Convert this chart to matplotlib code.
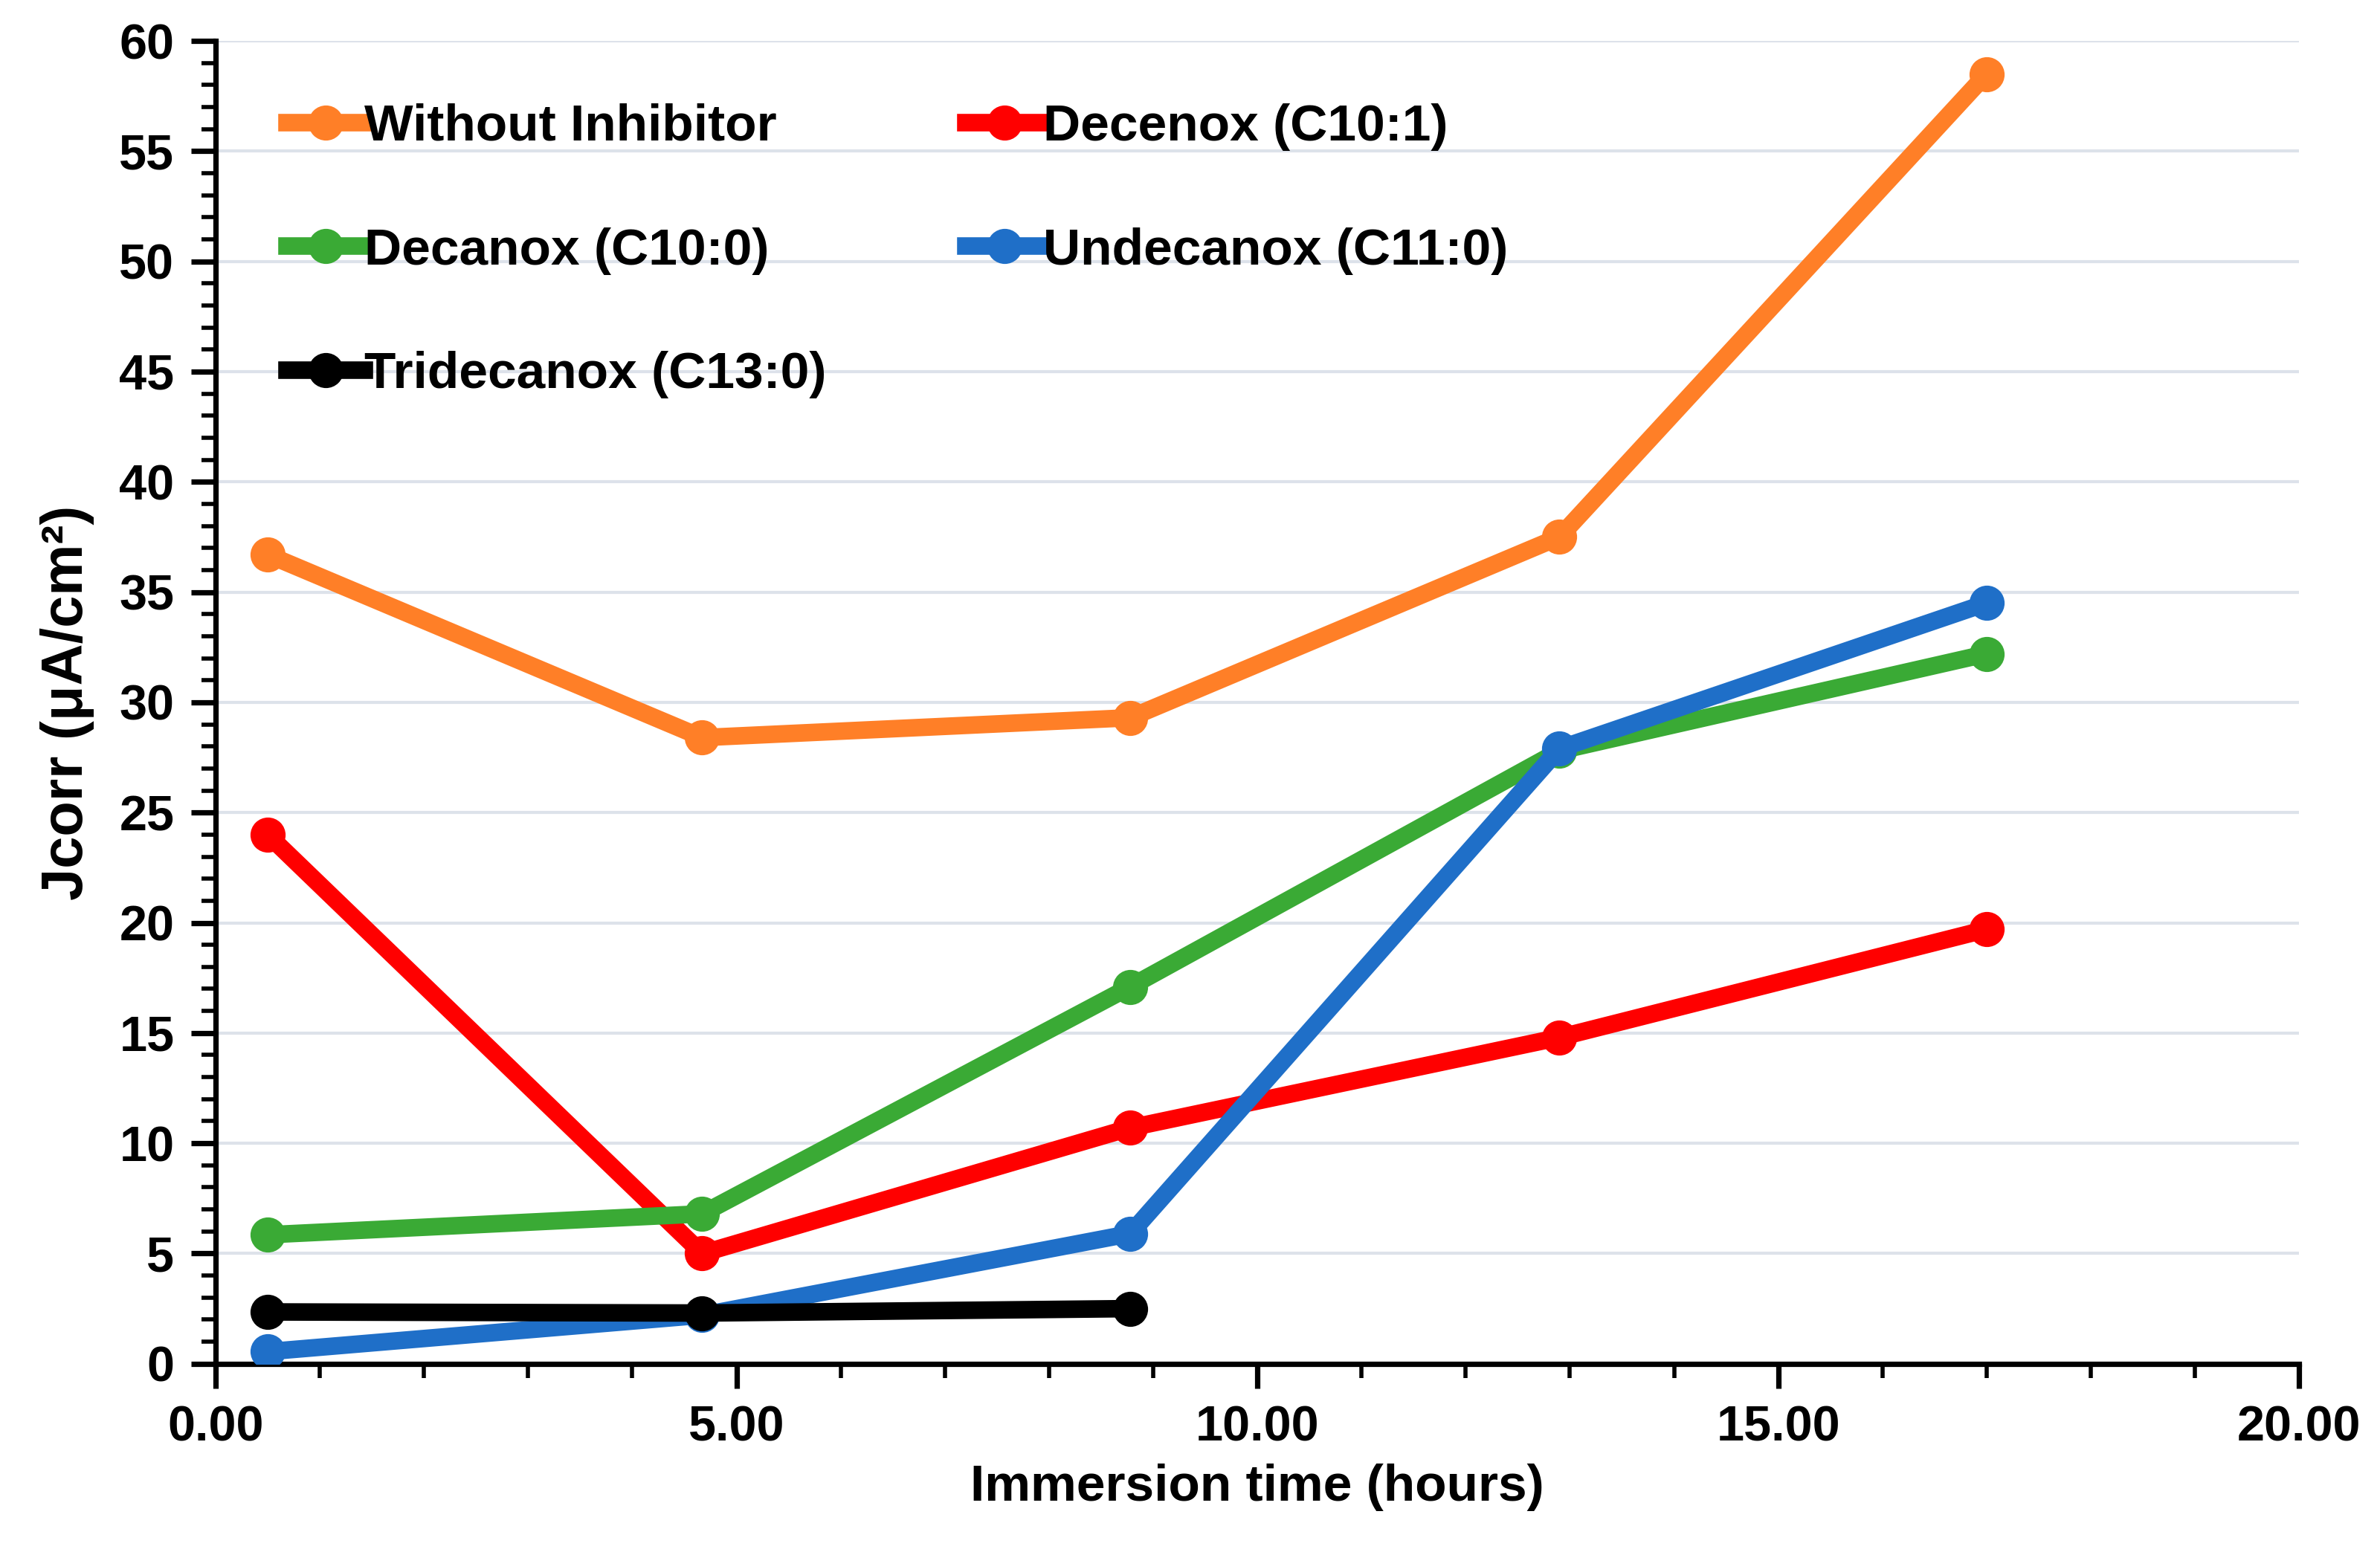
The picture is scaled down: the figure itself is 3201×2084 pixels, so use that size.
import matplotlib
matplotlib.use("Agg")
import matplotlib.pyplot as plt
from matplotlib.ticker import MultipleLocator, FormatStrFormatter

plt.rcParams['font.family'] = ['Liberation Sans', 'DejaVu Sans']
plt.rcParams['font.weight'] = 'bold'

# Data
time_h = [0.5, 4.67, 8.78, 12.9, 17.0]
without_inhibitor = [36.7, 28.4, 29.3, 37.5, 58.5]
decenox = [24.0, 5.0, 10.7, 14.8, 19.7]
decanox = [5.85, 6.8, 17.1, 27.8, 32.2]
undecanox = [0.55, 2.2, 5.9, 27.9, 34.5]
tridecanox = [2.35, 2.3, 2.5]

series = [
    ("Without Inhibitor", time_h, without_inhibitor, "#ff7f27"),
    ("Decenox (C10:1)", time_h, decenox, "#ff0000"),
    ("Decanox (C10:0)", time_h, decanox, "#3aaa35"),
    ("Undecanox (C11:0)", time_h, undecanox, "#1f6fc8"),
    ("Tridecanox (C13:0)", time_h[:3], tridecanox, "#000000"),
]

fig = plt.figure(figsize=(16.005, 10.42), dpi=200)
ax = fig.add_axes([0.0906, 0.1196, 0.8754, 0.854])

handles = {}
for name, x, y, c in series:
    h, = ax.plot(x, y, '-o', color=c, lw=8.5, ms=16, label=name, zorder=3)
    handles[name] = h

ax.set_xlim(0, 20)
ax.set_ylim(0, 60)
ax.xaxis.set_major_locator(MultipleLocator(5))
ax.xaxis.set_minor_locator(MultipleLocator(1))
ax.yaxis.set_major_locator(MultipleLocator(5))
ax.yaxis.set_minor_locator(MultipleLocator(1))
ax.xaxis.set_major_formatter(FormatStrFormatter('%.2f'))

ax.grid(axis='y', which='major', color='#dde2ea', lw=1.5, zorder=0)
for s in ['top', 'right']:
    ax.spines[s].set_visible(False)
for s in ['left', 'bottom']:
    ax.spines[s].set_linewidth(2.6)
    ax.spines[s].set_color('black')

ax.tick_params(which='major', direction='out', length=12, width=2.6, labelsize=24, pad=8)
ax.tick_params(which='minor', direction='out', length=7, width=2.0)

ax.set_xlabel("Immersion time (hours)", fontsize=25, fontweight='bold', labelpad=6)
ax.set_ylabel("Jcorr (μA/cm²)", fontsize=28, fontweight='bold', labelpad=12)

order = ["Without Inhibitor", "Decanox (C10:0)", "Tridecanox (C13:0)",
         "Decenox (C10:1)", "Undecanox (C11:0)"]
ax.legend([handles[n] for n in order], order, ncol=2, loc='upper left',
          bbox_to_anchor=(0.012, 0.988), frameon=False, fontsize=25,
          handlelength=1.5, handletextpad=0.0, columnspacing=2.7,
          labelspacing=1.48)

fig.savefig("out.png", dpi=200)
